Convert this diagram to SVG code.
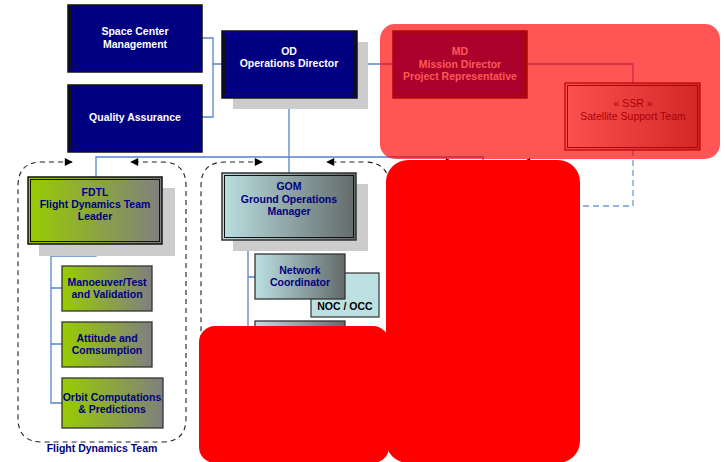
<svg xmlns="http://www.w3.org/2000/svg" width="725" height="462" viewBox="0 0 725 462">
<defs>
<linearGradient id="gGreen" x1="0" y1="0" x2="1" y2="0"><stop offset="0" stop-color="#99CC00"/><stop offset="1" stop-color="#7F7F7F"/></linearGradient>
<linearGradient id="gCyan" x1="0" y1="0" x2="1" y2="0"><stop offset="0" stop-color="#BBE0E2"/><stop offset="1" stop-color="#646A6A"/></linearGradient>
<linearGradient id="gGray" x1="0" y1="0" x2="1" y2="0"><stop offset="0" stop-color="#F2F2F2"/><stop offset="1" stop-color="#777777"/></linearGradient>
<marker id="arr" viewBox="0 0 10 10" refX="9" refY="5" markerWidth="9" markerHeight="8" markerUnits="userSpaceOnUse" orient="auto-start-reverse"><path d="M0,0 L10,5 L0,10 z" fill="#000"/></marker>
<style>
text{font-family:"Liberation Sans",Arial,sans-serif;font-size:10.5px;text-anchor:middle}
.b{font-weight:bold}
.w{fill:#FFFFFF}
.n{fill:#000080}
.k{fill:#000000}
.navy{fill:#000080;stroke:#111;stroke-width:1.5}
.inner{fill:none;stroke:#111;stroke-width:1}
.shadow{fill:#CCCCCC}
.box{stroke:#333;stroke-width:1.3}
.con{fill:none;stroke:#5585CC;stroke-width:1.3}
.grp{fill:none;stroke:#222;stroke-width:1.1;stroke-dasharray:5 4}
</style>
</defs>

<g id="connectors">
<path class="con" d="M202,38 H213 V117 H202 M213,64 H222"/>
<path class="con" d="M357,64 H393"/>
<path class="con" d="M527,64 H633 V83"/>
<path class="con" d="M289,98 V173"/>
<path class="con" d="M96,177 V157 H483 V175"/>
<path class="con" d="M96,244 V256 H51 V403 H62 M51,288 H62 M51,344 H62"/>
<path class="con" d="M289,240 V247 H248 V380 M248,277 H255"/>
<path fill="none" stroke="#6F9BDD" stroke-width="1.3" stroke-dasharray="6 4" d="M633,150 V206 H560"/>
</g>

<g id="group-flight-dynamics">
<path class="grp" marker-start="url(#arr)" marker-end="url(#arr)" d="M72,162 H42 Q18,162 18,186 V418 Q18,442 42,442 H162 Q186,442 186,418 V186 Q186,162 162,162 H131"/>
<text class="b n" x="102" y="452">Flight Dynamics Team</text>
</g>
<g id="group-ground-ops">
<path class="grp" marker-start="url(#arr)" marker-end="url(#arr)" d="M262,162 H225 Q201,162 201,186 V420 Q201,444 225,444 H364 Q389,444 389,420 V186 Q389,162 364,162 H327"/>
</g>
<g id="group-third">
<path class="grp" marker-start="url(#arr)" marker-end="url(#arr)" d="M453,162 H422 Q398,162 398,186 V420 Q398,444 422,444 H556 Q578,444 578,420 V186 Q578,162 556,162 H523"/>
</g>

<g id="space-center-management">
<rect class="navy" x="68" y="5" width="134" height="67"/>
<rect class="inner" x="70.5" y="7.5" width="129" height="62"/>
<text class="b w" x="135" y="35">Space Center</text>
<text class="b w" x="135" y="48">Management</text>
</g>
<g id="quality-assurance">
<rect class="navy" x="68" y="85" width="134" height="67"/>
<rect class="inner" x="70.5" y="87.5" width="129" height="62"/>
<text class="b w" x="135" y="121">Quality Assurance</text>
</g>
<g id="od">
<rect class="shadow" x="233" y="42" width="135" height="67"/>
<rect class="navy" x="222" y="31" width="135" height="67"/>
<rect class="inner" x="224.5" y="33.5" width="130" height="62"/>
<text class="b w" x="289" y="55">OD</text>
<text class="b w" x="289" y="67">Operations Director</text>
</g>
<g id="md">
<rect class="navy" x="393" y="31" width="134" height="67"/>
<rect class="inner" x="395.5" y="33.5" width="129" height="62"/>
<text class="b w" x="460" y="55">MD</text>
<text class="b w" x="460" y="68">Mission Director</text>
<text class="b w" x="460" y="80">Project Representative</text>
</g>
<g id="ssr">
<rect x="565" y="83" width="135" height="67" fill="url(#gGray)" stroke="#111" stroke-width="1.2"/>
<rect class="inner" x="567.5" y="85.5" width="130" height="62"/>
<text class="k" x="633" y="107">« SSR »</text>
<text class="k" x="633" y="120">Satellite Support Team</text>
</g>

<g id="fdtl">
<rect class="shadow" x="39" y="188" width="136" height="68"/>
<rect x="28" y="177" width="134" height="67" fill="url(#gGreen)" stroke="#111" stroke-width="1.5"/>
<rect class="inner" x="30.5" y="179.5" width="129" height="62"/>
<text class="b n" x="95" y="196">FDTL</text>
<text class="b n" x="95" y="208">Flight Dynamics Team</text>
<text class="b n" x="95" y="220">Leader</text>
</g>
<g id="manoeuver">
<rect class="box" x="62" y="266" width="90" height="45" fill="url(#gGreen)"/>
<text class="b n" x="107" y="286">Manoeuver/Test</text>
<text class="b n" x="107" y="298">and Validation</text>
</g>
<g id="attitude">
<rect class="box" x="62" y="322" width="90" height="45" fill="url(#gGreen)"/>
<text class="b n" x="107" y="342">Attitude and</text>
<text class="b n" x="107" y="354">Comsumption</text>
</g>
<g id="orbit">
<rect class="box" x="62" y="378" width="101" height="50" fill="url(#gGreen)"/>
<text class="b n" x="112" y="401">Orbit Computations</text>
<text class="b n" x="112" y="413">&amp; Predictions</text>
</g>

<g id="gom">
<rect class="shadow" x="233" y="184" width="135" height="67"/>
<rect x="222" y="173" width="134" height="67" fill="url(#gCyan)" stroke="#333" stroke-width="1.5"/>
<rect class="inner" x="224.5" y="175.5" width="129" height="62"/>
<text class="b n" x="289" y="190">GOM</text>
<text class="b n" x="289" y="203">Ground Operations</text>
<text class="b n" x="289" y="215">Manager</text>
</g>
<g id="noc-occ">
<rect x="311" y="273" width="68" height="44" fill="#BDE0E2" stroke="#333" stroke-width="1.2"/>
<text class="b k" x="345" y="310">NOC / OCC</text>
</g>
<g id="network-coordinator">
<rect class="box" x="255" y="254" width="90" height="45" fill="url(#gCyan)"/>
<text class="b n" x="300" y="274">Network</text>
<text class="b n" x="300" y="286">Coordinator</text>
</g>
<g id="hidden-node">
<rect class="box" x="255" y="321" width="90" height="45" fill="url(#gCyan)"/>
</g>

<g id="redactions">
<rect x="380" y="24" width="340" height="135" rx="15" fill="#FF0000" fill-opacity="0.667"/>
<rect x="199" y="326" width="190" height="137" rx="16" fill="#FF0000"/>
<rect x="386" y="160" width="194" height="303" rx="22" fill="#FF0000"/>
</g>
</svg>
